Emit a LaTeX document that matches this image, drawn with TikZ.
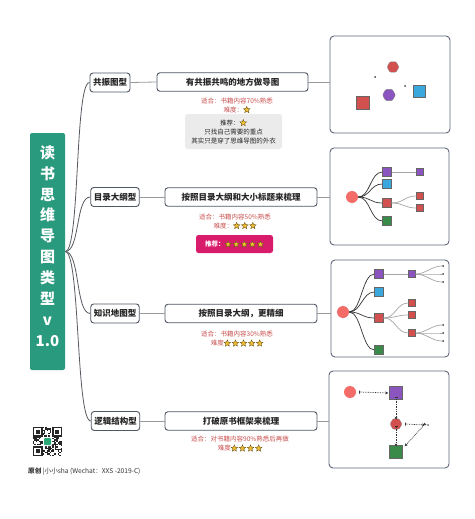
\documentclass[tikz,border=0pt]{standalone}
\usepackage{fontspec}
\setmainfont{Noto Sans CJK SC}
\usetikzlibrary{shapes.geometric,arrows.meta}
\definecolor{rootgreen}{HTML}{2A9A7E}
\definecolor{lineg}{HTML}{555A60}
\definecolor{boxline}{HTML}{4F5764}
\definecolor{picline}{HTML}{5E6679}
\definecolor{redtxt}{HTML}{C9504E}
\definecolor{graybox}{HTML}{EBEBEB}
\definecolor{pinkbox}{HTML}{D81B6A}
\definecolor{stargold}{HTML}{F2C230}
\definecolor{stardark}{HTML}{6B4E1A}
\definecolor{shred}{HTML}{D2504E}
\definecolor{shpurple}{HTML}{8A55BE}
\definecolor{shblue}{HTML}{3AA7DD}
\definecolor{shgreen}{HTML}{3A8A4A}
\definecolor{salmon}{HTML}{F46C68}
\definecolor{qrgreen}{HTML}{2AA876}
\newcommand\st{\tikz[baseline=-2.2pt]\node[star,star points=5,star point ratio=2.3,draw=stardark,fill=stargold,line width=0.35pt,inner sep=0pt,minimum size=7pt,minimum width=7pt,minimum height=7pt,sharp corners]{};}
\begin{document}
\begin{tikzpicture}[x=1pt,y=-1pt,
  rootbox/.style={fill=rootgreen,rounded corners=2pt,minimum width=35pt,minimum height=237pt,inner sep=0pt},
  branch/.style={draw=boxline,line width=0.9pt,rounded corners=3pt,fill=white,font=\bfseries\fontsize{8.5}{10}\selectfont,text=black!85,minimum height=19pt,inner xsep=3pt,inner ysep=0pt},
  mainbox/.style={draw=boxline,line width=0.9pt,rounded corners=3pt,fill=white,font=\bfseries\fontsize{8.5}{10}\selectfont,text=black!85,minimum height=18.5pt,inner sep=0pt},
  small/.style={font=\fontsize{6.5}{8}\selectfont,text=redtxt,inner sep=0pt},
  picbox/.style={draw=picline,line width=0.9pt,rounded corners=4pt,fill=white,inner sep=0pt,minimum height=97pt},
  rootline/.style={draw=lineg,line width=0.8pt},
  link/.style={draw=black!40,line width=0.8pt},
  sq/.style={draw=black!60,line width=0.4pt,minimum size=#1,inner sep=0pt},
  hex/.style={regular polygon,regular polygon sides=6,draw=black!50,line width=0.3pt,rounded corners=1pt,minimum size=#1,inner sep=0pt},
  dotn/.style={circle,fill=black!75,minimum size=2pt,inner sep=0pt},
  treeline/.style={draw=black!80,line width=0.7pt},
  treelight/.style={draw=black!35,line width=0.7pt},
  flow/.style={draw=black!80,line width=0.7pt,dash pattern=on 0.8pt off 0.9pt,{Bar[width=3pt]}-{Stealth[length=3pt,width=2.8pt]}}
]
\useasboundingbox[fill=white] (0,0) rectangle (474,519);

% root
\node[rootbox] (root) at (47.5,251.5) {};
\node[text=white,font=\bfseries\fontsize{15}{20.9}\selectfont,align=center,inner sep=0pt] (roottext) at (47.5,246) {读\\书\\思\\维\\导\\图\\类\\型\\v\\1.0};

% branches
\node[branch] (b1) at (110,82.5) {共振图型};
\node[branch] (b2) at (115,197) {目录大纲型};
\node[branch] (b3) at (115,313.5) {知识地图型};
\node[branch] (b4) at (115.5,421) {逻辑结构型};

\foreach \b in {b1,b2,b3,b4}
  \draw[rootline] (root.east) .. controls +(15,0) and +(-15,0) .. (\b.west);

% main boxes
\node[mainbox,minimum width=151pt] (m1) at (232.5,82) {有共振共鸣的地方做导图};
\node[mainbox,minimum width=152pt] (m2) at (241,197) {按照目录大纲和大小标题来梳理};
\node[mainbox,minimum width=152pt] (m3) at (241,313.5) {按照目录大纲，更精细};
\node[mainbox,minimum width=152pt] (m4) at (241,421) {打破原书框架来梳理};

\draw[link] (b1.east) -- (m1.west);
\draw[link] (b2.east) -- (m2.west);
\draw[link] (b3.east) -- (m3.west);
\draw[link] (b4.east) -- (m4.west);

% notes
\node[small] (t1a) at (237,101) {适合：书籍内容70\%熟悉};
\node[small] (t1b) at (237,109.5) {难度：\st};
\node[fill=graybox,rounded corners=3pt,minimum width=97pt,minimum height=35pt,inner sep=0pt,align=center,font=\fontsize{6.5}{9}\selectfont,text=black!85] (g1) at (233.5,131.5) {推荐：\st\\只找自己需要的重点\\其实只是穿了思维导图的外衣};

\node[small] (t2a) at (235,217) {适合：书籍内容50\%熟悉};
\node[small] (t2b) at (235,225.5) {难度：\st\,\st\,\st};
\node[fill=pinkbox,rounded corners=2.5pt,minimum width=77pt,minimum height=18pt,inner sep=0pt,text=white,font=\bfseries\fontsize{6.5}{8}\selectfont] (p2) at (234.5,244) {推荐：\st\,\st\,\st\,\st\,\st};

\node[small] (t3a) at (237,334) {适合：书籍内容30\%熟悉};
\node[small] (t3b) at (237,343) {难度\st\,\st\,\st\,\st\,\st};

\node[small] (t4a) at (240,439) {适合：对书籍内容90\%熟悉后再做};
\node[small] (t4b) at (240,448) {难度\st\,\st\,\st\,\st};

% picture boxes
\node[picbox,minimum width=120pt] (P1) at (390,84.5) {};
\node[picbox,minimum width=119pt] (P2) at (389.5,196.5) {};
\node[picbox,minimum width=118pt] (P3) at (390,308.5) {};
\node[picbox,minimum width=120pt] (P4) at (389,419.5) {};

\draw[link] (m1.east) -- (m1.east -| P1.west);
\draw[link] (m2.east) -- (m2.east -| P2.west);
\draw[link] (m3.east) -- (m3.east -| P3.west);
\draw[link] (m4.east) -- (m4.east -| P4.west);

% P1 contents
\node[hex=12pt,fill=shred] (h1a) at (393,67) {};
\node[dotn] (d1a) at (375,77) {};
\node[dotn] (d1b) at (405,86) {};
\node[sq=12pt,fill=shblue] (s1a) at (419,91) {};
\node[hex=13pt,fill=shpurple] (h1b) at (389,95) {};
\node[sq=13pt,fill=shred] (s1b) at (363,103) {};

% P2 contents
\node[circle,fill=salmon,minimum size=12pt,inner sep=0pt] (c2) at (352,197) {};
\node[sq=9pt,fill=shpurple] (s2a) at (387,172) {};
\node[sq=9pt,fill=shblue] (s2b) at (387,184) {};
\node[sq=9pt,fill=shred] (s2c) at (387,203) {};
\node[sq=9pt,fill=shgreen] (s2d) at (387,221) {};
\node[sq=7pt,fill=shpurple] (s2e) at (420,172) {};
\node[sq=7pt,fill=shred] (s2f) at (420,196) {};
\node[sq=7pt,fill=shred] (s2g) at (420,208) {};
\foreach \t in {s2a,s2b,s2c,s2d}
  \draw[treeline] (c2.east) .. controls +(12,0) and +(-12,0) .. (\t.west);
\draw[treelight,line width=1pt] (s2a.east) -- (s2e.west);
\foreach \t in {s2f,s2g}
  \draw[treelight] (s2c.east) .. controls +(12,0) and +(-12,0) .. (\t.west);

% P3 contents
\node[circle,fill=salmon,minimum size=12pt,inner sep=0pt] (c3) at (343,312) {};
\node[sq=9pt,fill=shpurple] (s3a) at (379,274) {};
\node[sq=9pt,fill=shblue] (s3b) at (379,292) {};
\node[sq=9pt,fill=shred] (s3c) at (379,318) {};
\node[sq=9pt,fill=shgreen] (s3d) at (379,350) {};
\node[sq=7pt,fill=shpurple] (s3e) at (412,274) {};
\node[sq=7pt,fill=shred] (s3f) at (412,303) {};
\node[sq=7pt,fill=shred] (s3g) at (412,315) {};
\node[sq=7pt,fill=shred] (s3h) at (412,333) {};
\foreach \t in {s3a,s3b,s3c,s3d}
  \draw[treeline] (c3.east) .. controls +(12,0) and +(-12,0) .. (\t.west);
\draw[treelight,line width=1pt] (s3a.east) -- (s3e.west);
\foreach \t in {s3f,s3g,s3h}
  \draw[treelight] (s3c.east) .. controls +(12,0) and +(-12,0) .. (\t.west);
\node[dotn] (e1) at (443,266) {};
\node[dotn] (e2) at (443,274) {};
\node[dotn] (e3) at (443,282) {};
\node[dotn] (e4) at (443,325) {};
\node[dotn] (e5) at (443,333) {};
\node[dotn] (e6) at (443,341) {};
\foreach \t in {e1,e2,e3}
  \draw[treelight] (s3e.east) .. controls +(10,0) and +(-10,0) .. (\t.west);
\foreach \t in {e4,e5,e6}
  \draw[treelight] (s3h.east) .. controls +(10,0) and +(-10,0) .. (\t.west);

% P4 contents
\node[circle,fill=salmon,minimum size=12pt,inner sep=0pt] (c4) at (350,392) {};
\node[sq=13pt,fill=shpurple] (s4a) at (396,393) {};
\node[hex=12pt,fill=shred] (h4) at (396,424) {};
\node[sq=13pt,fill=shgreen] (s4b) at (396,452) {};
\node[dotn,minimum size=1.6pt] (d4) at (428,425) {};
\draw[flow] ([xshift=3pt]c4.east) -- ([xshift=-1pt]s4a.west);
\draw[flow] ([yshift=3pt]s4a.south) -- ([yshift=-1pt]h4.north);
\draw[flow] ([xshift=3pt]h4.east) -- ([xshift=-2pt]d4.west);
\draw[flow] ([yshift=3pt]h4.south) -- ([yshift=-1pt]s4b.north);
\draw[flow] ([shift={(-2pt,2pt)}]d4.south west) -- ([shift={(2pt,-1pt)}]s4b.north east);

% QR code
\begin{scope}
\clip (33,427) rectangle (62,456);
\pgfmathsetseed{12}
\foreach \i in {0,...,20}{
  \foreach \j in {0,...,20}{
    \pgfmathtruncatemacro\qrr{rnd<0.5?1:0}
    \ifnum\qrr=1 \fill[black!85] (33+\i*1.38,427+\j*1.38) rectangle ++(1.38,1.38);\fi
  }
}
\foreach \ox/\oy in {33/427, 52.32/427, 33/446.32}{
  \fill[white] (\ox-1.38,\oy-1.38) rectangle ++(11.04,11.04);
  \fill[black!85] (\ox,\oy) rectangle ++(9.66,9.66);
  \fill[white] (\ox+1.38,\oy+1.38) rectangle ++(6.9,6.9);
  \fill[black!85] (\ox+2.76,\oy+2.76) rectangle ++(4.14,4.14);
}
\end{scope}
\node[fill=white,rounded corners=1pt,minimum size=9pt,inner sep=0pt] (qrw) at (47.5,441.5) {};
\node[fill=qrgreen,rounded corners=1pt,minimum size=7pt,inner sep=0pt] (qrg) at (47.5,441.5) {};

% footer
\node[anchor=west,inner sep=0pt,font=\fontsize{6.6}{7.5}\selectfont,text=black!80] (foot) at (28,472) {{\bfseries 原创} |小小sha (Wechat：XXS -2019-C)};
\end{tikzpicture}
\end{document}
